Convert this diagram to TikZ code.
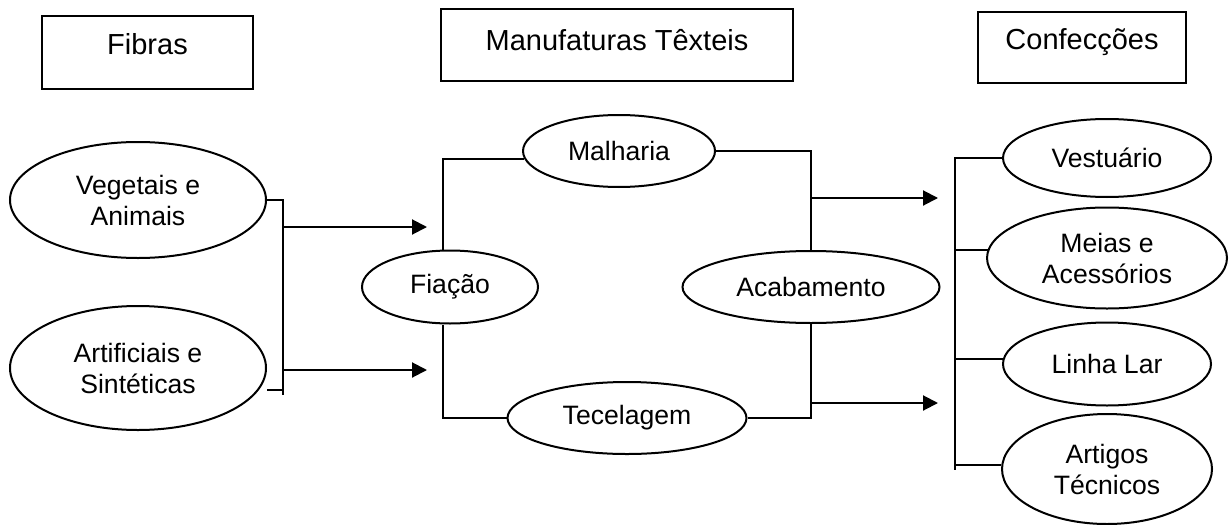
\documentclass[tikz,border=0pt]{standalone}
\usepackage{fontspec}
\setmainfont{Liberation Sans}
\usetikzlibrary{shapes.geometric,arrows.meta}
\begin{document}
\begin{tikzpicture}[x=0.5pt,y=-0.5pt,
  every path/.style={line width=1pt},
  titlebox/.style={draw,line width=1pt,rectangle,inner sep=0pt,text depth=0pt,
    font=\fontsize{14.5}{16}\selectfont},
  oval/.style={draw,line width=1pt,ellipse,inner sep=0pt,align=center,
    font=\fontsize{13.3}{15.5}\selectfont},
  arr/.style={-{Triangle[length=7.5pt,width=7.5pt]}}]
\useasboundingbox (0,0) rectangle (1229,524);
% title boxes
\node[titlebox,minimum width=105.5pt,minimum height=36.5pt,text height=1.9pt] (fib) at (147.5,52.5) {Fibras};
\node[titlebox,minimum width=176pt,minimum height=36pt,text height=5.9pt] (man) at (617,45) {Manufaturas Têxteis};
\node[titlebox,minimum width=104pt,minimum height=35.5pt,text height=2.4pt] (con) at (1082,47.5) {Confecções};
% ellipses
\node[oval,minimum width=128pt,minimum height=58pt] (veg) at (138,200) {Vegetais e\\Animais};
\node[oval,minimum width=128pt,minimum height=62pt] (art) at (138,368) {Artificiais e\\Sintéticas};
\node[oval,minimum width=88pt,minimum height=36.5pt] (fia) at (450,287) {Fiação};
\node[oval,minimum width=96pt,minimum height=36pt] (mal) at (619,151) {Malharia};
\node[oval,minimum width=128.5pt,minimum height=36pt] (aca) at (811,287) {Acabamento};
\node[oval,minimum width=119.5pt,minimum height=36pt] (tec) at (627,418) {Tecelagem};
\node[oval,minimum width=104pt,minimum height=39pt] (ves) at (1107,158) {Vestuário};
\node[oval,minimum width=120pt,minimum height=50.5pt] (mei) at (1107,258) {Meias e\\Acessórios};
\node[oval,minimum width=104pt,minimum height=41.5pt] (lin) at (1107,364) {Linha Lar};
\node[oval,minimum width=105pt,minimum height=55pt] (atg) at (1107,469) {Artigos\\Técnicos};
% coordinates
\coordinate (b1bot) at (283,395);
\coordinate (s1) at (267,390);
\coordinate (a1) at (427,227);
\coordinate (a2) at (427,370);
\coordinate (fl) at (443,0);
\coordinate (a3) at (938,198);
\coordinate (a4) at (938,403);
\coordinate (rb) at (955,470);
% left bracket
\draw (veg.east) -| (b1bot);
\draw (s1) -- (s1 -| b1bot);
\draw[arr] (a1 -| b1bot) -- (a1);
\draw[arr] (a2 -| b1bot) -- (a2);
% middle
\draw (mal.185) -| (fl |- fia.north);
\draw (tec.west) -| (fl |- fia.south);
\draw (mal.east) -| (aca.north);
\draw (tec.east) -| (aca.south);
\draw[arr] (a3 -| aca.north) -- (a3);
\draw[arr] (a4 -| aca.north) -- (a4);
% right bracket
\draw (ves.west) -| (rb);
\draw (mei.176) -- (mei.176 -| rb);
\draw (lin.177) -- (lin.177 -| rb);
\draw (atg.178) -- (atg.178 -| rb);
\end{tikzpicture}
\end{document}
